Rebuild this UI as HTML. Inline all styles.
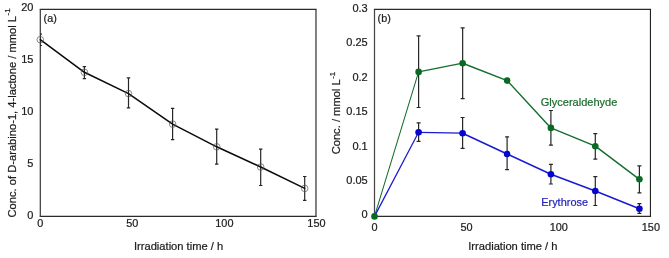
<!DOCTYPE html>
<html><head><meta charset="utf-8">
<style>
html,body{margin:0;padding:0;background:#fff;}
svg{display:block;will-change:transform;font-family:"Liberation Sans",sans-serif;font-size:11.16px;fill:#1c1c1c;}
text{stroke:#1c1c1c;stroke-width:0.22px;}
</style></head><body>
<svg width="669" height="258" viewBox="0 0 669 258">
<rect width="669" height="258" fill="#fff"/>
<path d="M39.7 9.42H316.61M39.7 216.42H316.61" stroke="#2a2a2a" stroke-width="1.25" fill="none"/>
<path d="M40.33 9.42V216.42" stroke="#4a4a4a" stroke-width="1.35" fill="none"/>
<path d="M315.98 9.42V216.42" stroke="#444" stroke-width="1.35" fill="none"/>
<g text-anchor="end" font-size="11">
<text x="33.43" y="218.82">0</text>
<text x="33.43" y="166.96">5</text>
<text x="33.43" y="115.09">10</text>
<text x="33.43" y="63.23">15</text>
<text x="33.43" y="11.37">20</text>
</g>
<g text-anchor="middle">
<g font-size="10.9">
<text x="40.33" y="226.9">0</text>
<text x="132.36" y="226.9">50</text>
<text x="224.4" y="226.9">100</text>
<text x="316.43" y="226.9">150</text>
</g>
<text x="178.56" y="250">Irradiation time / h</text>
</g>
<text x="43.55" y="22" font-size="10.8">(a)</text>
<text text-anchor="middle" transform="translate(15.95,112.85) rotate(-90)">Conc. of D-arabino-1, 4-lactone / mmol L<tspan font-size="8.1" dx="0.5" dy="-5.5">-1</tspan></text>
<clipPath id="ca"><rect x="40.3" y="0" width="290" height="258"/></clipPath>
<g clip-path="url(#ca)"><path d="M40.3 34.2V45.5M38.6 34.2H42M38.6 45.5H42" stroke="#262626" stroke-width="1.2" fill="none"/>
<path d="M84.4 66.6V78.6M82.7 66.6H86.1M82.7 78.6H86.1" stroke="#262626" stroke-width="1.2" fill="none"/>
<path d="M128.5 77.9V107.8M126.8 77.9H130.2M126.8 107.8H130.2" stroke="#262626" stroke-width="1.2" fill="none"/>
<path d="M172.6 108.4V139.6M170.9 108.4H174.3M170.9 139.6H174.3" stroke="#262626" stroke-width="1.2" fill="none"/>
<path d="M216.7 129.1V164.2M215 129.1H218.4M215 164.2H218.4" stroke="#262626" stroke-width="1.2" fill="none"/>
<path d="M260.7 149.2V185.5M259 149.2H262.4M259 185.5H262.4" stroke="#262626" stroke-width="1.2" fill="none"/>
<path d="M304.7 176.5V200.4M303 176.5H306.4M303 200.4H306.4" stroke="#262626" stroke-width="1.2" fill="none"/>
</g>
<polyline fill="none" stroke="#0a0a0a" stroke-width="1.5" stroke-linejoin="round" stroke-linecap="round" points="40.3,39.7 84.4,72.3 128.5,93.6 172.6,124.1 216.7,146.8 260.7,167 304.7,188.4"/>
<circle cx="40.3" cy="39.7" r="3.3" fill="none" stroke="#4a4a4a" stroke-width="0.65"/>
<circle cx="84.4" cy="72.3" r="3.3" fill="none" stroke="#4a4a4a" stroke-width="0.65"/>
<circle cx="128.5" cy="93.6" r="3.3" fill="none" stroke="#4a4a4a" stroke-width="0.65"/>
<circle cx="172.6" cy="124.1" r="3.3" fill="none" stroke="#4a4a4a" stroke-width="0.65"/>
<circle cx="216.7" cy="146.8" r="3.3" fill="none" stroke="#4a4a4a" stroke-width="0.65"/>
<circle cx="260.7" cy="167" r="3.3" fill="none" stroke="#4a4a4a" stroke-width="0.65"/>
<circle cx="304.7" cy="188.4" r="3.3" fill="none" stroke="#4a4a4a" stroke-width="0.65"/>
<path d="M373.88 9.4H651.08M373.88 216.4H651.08" stroke="#2a2a2a" stroke-width="1.25" fill="none"/>
<path d="M374.5 9.4V216.4" stroke="#464646" stroke-width="1.25" fill="none"/>
<path d="M650.45 9.4V216.4" stroke="#222" stroke-width="1.15" fill="none"/>
<g text-anchor="end" font-size="11">
<text x="367.7" y="218.4">0</text>
<text x="367.7" y="183.95">0.05</text>
<text x="367.7" y="149.5">0.1</text>
<text x="367.7" y="115.05">0.15</text>
<text x="367.7" y="80.6">0.2</text>
<text x="367.7" y="46.15">0.25</text>
<text x="367.7" y="11.7">0.3</text>
</g>
<g text-anchor="middle">
<g font-size="10.9">
<text x="374.5" y="231.3">0</text>
<text x="466.63" y="231.3">50</text>
<text x="558.77" y="231.3">100</text>
<text x="650.9" y="231.3">150</text>
</g>
<text x="512.88" y="250">Irradiation time / h</text>
</g>
<text x="377.55" y="22" font-size="10.8">(b)</text>
<text text-anchor="middle" transform="translate(340.1,113) rotate(-90)">Conc. / mmol L<tspan font-size="8.1" dx="0.5" dy="-5.5">-1</tspan></text>
<path d="M418.6 35.9V107.5M416.6 35.9H420.6M416.6 107.5H420.6" stroke="#262626" stroke-width="1.2" fill="none"/>
<path d="M462.65 27.9V98.6M460.65 27.9H464.65M460.65 98.6H464.65" stroke="#262626" stroke-width="1.2" fill="none"/>
<path d="M550.9 110.5V145.1M548.9 110.5H552.9M548.9 145.1H552.9" stroke="#262626" stroke-width="1.2" fill="none"/>
<path d="M595.3 133.7V159.2M593.3 133.7H597.3M593.3 159.2H597.3" stroke="#262626" stroke-width="1.2" fill="none"/>
<path d="M639.4 165.8V192.9M637.4 165.8H641.4M637.4 192.9H641.4" stroke="#262626" stroke-width="1.2" fill="none"/>
<path d="M418.6 122.9V141.4M416.6 122.9H420.6M416.6 141.4H420.6" stroke="#262626" stroke-width="1.2" fill="none"/>
<path d="M462.6 117.5V148.3M460.6 117.5H464.6M460.6 148.3H464.6" stroke="#262626" stroke-width="1.2" fill="none"/>
<path d="M507.1 136.8V169.7M505.1 136.8H509.1M505.1 169.7H509.1" stroke="#262626" stroke-width="1.2" fill="none"/>
<path d="M550.9 164.4V184M548.9 164.4H552.9M548.9 184H552.9" stroke="#262626" stroke-width="1.2" fill="none"/>
<path d="M595.3 176.7V205.5M593.3 176.7H597.3M593.3 205.5H597.3" stroke="#262626" stroke-width="1.2" fill="none"/>
<path d="M639.4 203.7V213.4M637.4 203.7H641.4M637.4 213.4H641.4" stroke="#262626" stroke-width="1.2" fill="none"/>
<polyline fill="none" stroke="#146e2e" stroke-width="1.05" stroke-linejoin="round" stroke-linecap="round" points="374.5,216.4 418.6,71.9"/>
<polyline fill="none" stroke="#146e2e" stroke-width="1.35" stroke-linejoin="round" stroke-linecap="round" points="418.6,71.9 462.65,63.2"/>
<polyline fill="none" stroke="#146e2e" stroke-width="1.45" stroke-linejoin="round" stroke-linecap="round" points="462.65,63.2 507.15,80.6 550.9,127.9 595.3,146.2 639.4,179.3"/>
<polyline fill="none" stroke="#1a1ad0" stroke-width="1.25" stroke-linejoin="round" stroke-linecap="round" points="374.5,216.4 418.6,132.3"/>
<polyline fill="none" stroke="#1a1ad0" stroke-width="1.2" stroke-linejoin="round" stroke-linecap="round" points="418.6,132.3 462.6,133.2"/>
<polyline fill="none" stroke="#1a1ad0" stroke-width="1.5" stroke-linejoin="round" stroke-linecap="round" points="462.6,133.2 507.1,154 550.9,174.2 595.3,191 639.4,208.7"/>
<circle cx="374.5" cy="216.4" r="3.3" fill="#0a6922" stroke="none" stroke-width="0"/>
<circle cx="418.6" cy="71.9" r="3.3" fill="#0a6922" stroke="none" stroke-width="0"/>
<circle cx="462.65" cy="63.2" r="3.3" fill="#0a6922" stroke="none" stroke-width="0"/>
<circle cx="507.15" cy="80.6" r="3.3" fill="#0a6922" stroke="none" stroke-width="0"/>
<circle cx="550.9" cy="127.9" r="3.3" fill="#0a6922" stroke="none" stroke-width="0"/>
<circle cx="595.3" cy="146.2" r="3.3" fill="#0a6922" stroke="none" stroke-width="0"/>
<circle cx="639.4" cy="179.3" r="3.3" fill="#0a6922" stroke="none" stroke-width="0"/>
<circle cx="418.6" cy="132.3" r="3.3" fill="#0505d0" stroke="none" stroke-width="0"/>
<circle cx="462.6" cy="133.2" r="3.3" fill="#0505d0" stroke="none" stroke-width="0"/>
<circle cx="507.1" cy="154" r="3.3" fill="#0505d0" stroke="none" stroke-width="0"/>
<circle cx="550.9" cy="174.2" r="3.3" fill="#0505d0" stroke="none" stroke-width="0"/>
<circle cx="595.3" cy="191" r="3.3" fill="#0505d0" stroke="none" stroke-width="0"/>
<circle cx="639.4" cy="208.7" r="3.3" fill="#0505d0" stroke="none" stroke-width="0"/>
<text x="540.8" y="106.3" textLength="76.5" lengthAdjust="spacingAndGlyphs" style="fill:#1c6c30;stroke:#1c6c30">Glyceraldehyde</text>
<text x="541.2" y="206.1" textLength="46.9" lengthAdjust="spacingAndGlyphs" style="fill:#2424bc;stroke:#2424bc">Erythrose</text>
</svg>
</body></html>
